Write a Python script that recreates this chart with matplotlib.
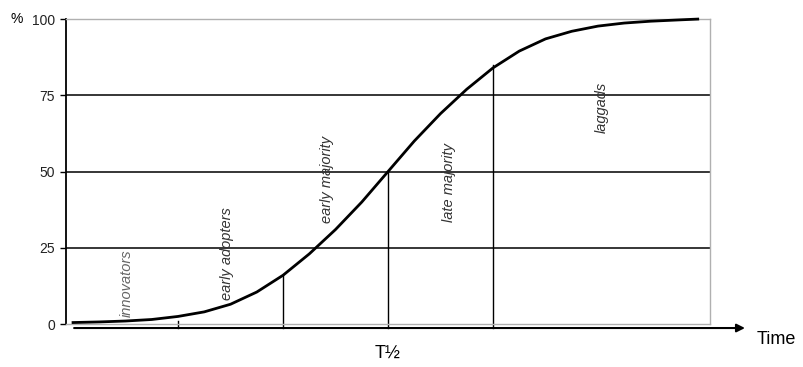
import numpy as np
import matplotlib.pyplot as plt

plt.rcParams['font.family'] = ['Liberation Sans', 'DejaVu Sans']

# time in standard deviations from T1/2, adoption in %
tempo = [-3.0, -2.75, -2.5, -2.25, -2.0, -1.75, -1.5, -1.25, -1.0, -0.75, -0.5, -0.25,
         0.0, 0.25, 0.5, 0.75, 1.0, 1.25, 1.5, 1.75, 2.0, 2.25, 2.5, 2.75, 2.95]
adocao = [0.5, 0.7, 1.0, 1.5, 2.5, 4.0, 6.5, 10.5, 16, 23, 31, 40,
          50, 60, 69, 77, 84, 89.5, 93.5, 96, 97.7, 98.7, 99.3, 99.7, 100]

# category boundaries and height of the vertical line at each
limites = [-2, -1, 0, 1]
topo_limites = [1, 16, 50, 85]

categorias = ['innovators', 'early adopters', 'early majority', 'late majority', 'laggads']
cat_x = [-2.49, -1.53, -0.58, 0.58, 2.04]
cat_y = [2.3, 7.9, 33, 33.4, 62.6]
cat_cor = ['#666666', '#333333', '#333333', '#333333', '#333333']

yticks = [0, 25, 50, 75, 100]

fig = plt.figure(figsize=(8.04, 3.67), dpi=100)
ax = fig.add_axes([0.0821, 0.117, 0.801, 0.831])

ax.set_xlim(-3.067, 3.067)
ax.set_ylim(0, 100)

# grid lines
for v in [25, 50, 75]:
    ax.axhline(v, color='black', lw=1.1, zorder=1)

# vertical boundaries (go below the axis to the arrow)
for x, t in zip(limites, topo_limites):
    ax.plot([x, x], [-1.3, t], color='black', lw=1.0, clip_on=False, zorder=1)

# S-curve
ax.plot(tempo, adocao, color='black', lw=2.0, zorder=3, clip_on=False,
        solid_joinstyle='round')

# category labels
for nome, x, y, c in zip(categorias, cat_x, cat_y, cat_cor):
    ax.text(x, y, nome, rotation=90, ha='center', va='bottom', fontsize=10.5,
            style='italic', color=c)

# time arrow
ax.annotate('', xy=(3.40, -1.3), xytext=(-2.99, -1.3), xycoords='data',
            arrowprops=dict(arrowstyle='-|>', mutation_scale=12, lw=1.5,
                            color='black', shrinkA=0, shrinkB=0),
            annotation_clip=False)

ax.set_yticks(yticks)
ax.set_yticklabels([str(v) for v in yticks], fontsize=10, color='#222222')
ax.tick_params(axis='y', length=4, width=1, color='black', pad=4)
ax.set_xticks([])

for lado in ['top', 'right', 'bottom']:
    ax.spines[lado].set_color('#b0b0b0')
    ax.spines[lado].set_linewidth(1.0)
ax.spines['left'].set_color('black')
ax.spines['left'].set_linewidth(1.3)

ax.text(-0.076, 1.0, '%', transform=ax.transAxes, ha='center', va='center', fontsize=10)
ax.text(1.073, -0.049, 'Time', transform=ax.transAxes, ha='left', va='center', fontsize=13)
ax.text(0, -0.095, 'T½', transform=ax.get_xaxis_transform(), ha='center', va='center', fontsize=13)

fig.savefig('out.png', dpi=100)
